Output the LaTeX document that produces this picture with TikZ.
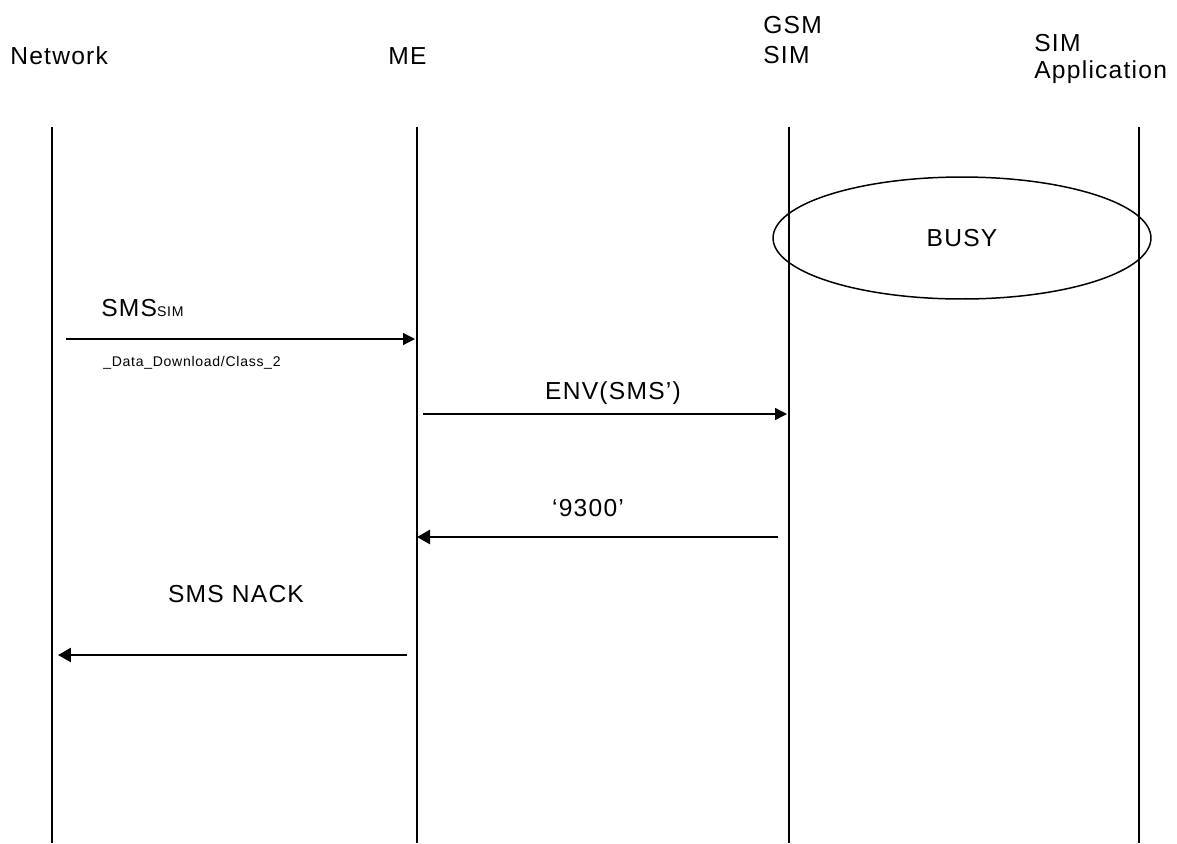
\documentclass[tikz,border=0pt]{standalone}
\usepackage{fontspec}
\setmainfont{Liberation Sans}[LetterSpace=5]
\usetikzlibrary{arrows.meta,positioning,shapes.geometric}

\begin{document}
\begin{tikzpicture}[
    x=0.02cm, y=-0.02cm,
    every node/.style={inner sep=0pt, font=\fontsize{14}{17}\selectfont},
    head/.style={align=left, anchor=north west},
    life/.style={line width=1.3pt},
    msg/.style={-{Triangle[length=2.4mm, width=2.4mm]}, line width=0.7pt},
    ret/.style={-{Triangle[length=2.6mm, width=2.8mm]}, line width=1.5pt},
    state/.style={draw, ellipse, line width=0.85pt, minimum width=7.56cm, minimum height=2.44cm},
    small/.style={font=\fontsize{8}{9}\selectfont}
]
\useasboundingbox (0,0) rectangle (1177,843);

% entities
\node[head, anchor=west] (net) at (10,56) {Network};
\node[head, anchor=west] (me) at (388,56) {ME};
\node[head] (gsm) at (763,16) {GSM\\SIM};
\node[head, font=\fontsize{14}{15.3}\selectfont] (app) at (1034,34) {SIM\\Application};

% lifelines
\foreach \name/\x in {net/52, me/417, sim/789, simapp/1139} {
    \coordinate (\name-top) at (\x,127);
    \coordinate (\name-bot) at (\x,843);
    \draw[life] (\name-top) -- (\name-bot);
}

\node[state] (busy) at (962,238) {BUSY};

% SMS from the network
\coordinate (sms-from) at (66,339);
\coordinate (sms-to) at (415,339);
\draw[msg] (sms-from) -- (sms-to);
\node[anchor=west] (sms) at (101,308) {SMS{\fontsize{8}{9}\selectfont SIM}};
\node[small, anchor=west] (sms-type) at (103,363) {\_Data\_Download/Class\_2};

% envelope to the SIM
\coordinate (env-from) at (423,414);
\coordinate (env-to) at (787,414);
\draw[msg] (env-from) -- (env-to);
\node (env) at (613,393) {ENV(SMS’)};

% SIM busy answer
\coordinate (sw-from) at (778,537);
\coordinate (sw-to) at (417,537);
\draw[ret] (sw-from) -- (sw-to);
\node (sw) at (588,508) {‘9300’};

\coordinate (nack-from) at (407,655);
\coordinate (nack-to) at (58,655);
\draw[ret] (nack-from) -- (nack-to);
\node (nack) at (236,594) {SMS NACK};
\end{tikzpicture}
\end{document}
